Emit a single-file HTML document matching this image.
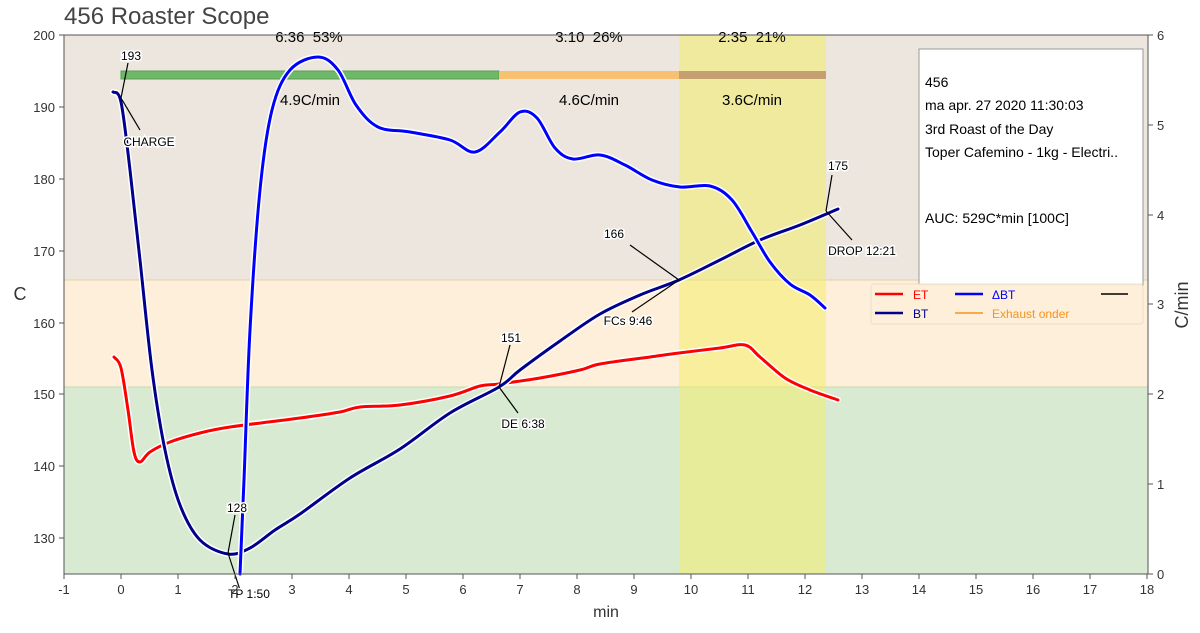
<!DOCTYPE html>
<html><head><meta charset="utf-8"><style>body{margin:0;background:#fff}svg{font-family:"Liberation Sans",sans-serif}text{white-space:pre}</style></head><body>
<svg width="1200" height="628" viewBox="0 0 1200 628" xmlns="http://www.w3.org/2000/svg">
<rect x="64" y="35" width="1084" height="245" fill="#ede6df"/>
<rect x="64" y="280" width="1084" height="107" fill="#fdefd9"/>
<rect x="64" y="387" width="1084" height="187" fill="#d9ead3"/>
<line x1="64" y1="280" x2="1148" y2="280" stroke="#e8cfa8"/>
<line x1="64" y1="387" x2="1148" y2="387" stroke="#c9d8b0"/>
<rect x="679" y="35" width="147" height="539" fill="#f4ee60" opacity="0.5"/>
<rect x="121" y="71" width="378" height="8" fill="#6fb86a" stroke="#58a050"/>
<rect x="499" y="71" width="180" height="8" fill="#f7c170"/>
<rect x="679" y="71" width="147" height="8" fill="#c4a070"/>
<g fill="#000" font-size="15" text-anchor="middle">
<text x="309" y="42" xml:space="preserve">6:36  53%</text><text x="589" y="42" xml:space="preserve">3:10  26%</text><text x="752" y="42" xml:space="preserve">2:35  21%</text>
<text x="310" y="105">4.9C/min</text><text x="589" y="105">4.6C/min</text><text x="752" y="105">3.6C/min</text>
</g>
<g fill="none" stroke-linejoin="round" stroke-linecap="round">
<path id="etw" stroke="#fff" stroke-width="6"/><path id="et" stroke="#f00" stroke-width="3"/>
<path id="btw" stroke="#fff" stroke-width="6"/><path id="bt" stroke="#00008b" stroke-width="3"/>
<path id="dbw" stroke="#fff" stroke-width="6"/><path id="db" stroke="#00f" stroke-width="3"/>
</g>
<g stroke="#000" stroke-width="1.2">
<line x1="121" y1="98" x2="128" y2="63"/><line x1="121" y1="98" x2="140" y2="130"/>
<line x1="228" y1="553" x2="235" y2="515"/><line x1="228" y1="553" x2="240" y2="590"/>
<line x1="499" y1="387" x2="510" y2="345"/><line x1="499" y1="387" x2="518" y2="413"/>
<line x1="679" y1="280" x2="630" y2="245"/><line x1="679" y1="280" x2="632" y2="312"/>
<line x1="826" y1="211" x2="832" y2="175"/><line x1="826" y1="211" x2="852" y2="240"/>
</g>
<g font-size="12" fill="#000" text-anchor="middle" stroke="#fff" stroke-width="3" paint-order="stroke">
<text x="131" y="60">193</text><text x="149" y="146">CHARGE</text>
<text x="237" y="512">128</text><text x="249" y="598">TP 1:50</text>
<text x="511" y="342">151</text><text x="523" y="428">DE 6:38</text>
<text x="614" y="238">166</text><text x="628" y="325">FCs 9:46</text>
<text x="838" y="170">175</text><text x="862" y="255">DROP 12:21</text>
</g>
<rect x="919" y="49" width="224" height="236" fill="#fff" stroke="#999"/>
<g font-size="14" fill="#000"><text x="925" y="87">456</text><text x="925" y="110">ma apr. 27 2020 11:30:03</text><text x="925" y="134">3rd Roast of the Day</text><text x="925" y="157">Toper Cafemino - 1kg - Electri..</text><text x="925" y="223">AUC: 529C*min [100C]</text></g>
<rect x="871" y="284" width="272" height="40" rx="3" fill="#fdefd9" stroke="#eadfc8" opacity="0.95"/>
<g stroke-width="2.5"><line x1="875" y1="294" x2="903" y2="294" stroke="#f00"/><line x1="875" y1="313" x2="903" y2="313" stroke="#00008b"/><line x1="955" y1="294" x2="983" y2="294" stroke="#00f"/><line x1="955" y1="313" x2="983" y2="313" stroke="#f7931e" stroke-width="1.5"/><line x1="1101" y1="294" x2="1128" y2="294" stroke="#000" stroke-width="1.5"/></g>
<g font-size="12"><text x="913" y="299" fill="#f00">ET</text><text x="913" y="318" fill="#00008b">BT</text><text x="992" y="299" fill="#00f">ΔBT</text><text x="992" y="318" fill="#f7931e">Exhaust onder</text></g>
<rect x="64" y="35" width="1084" height="539" fill="none" stroke="#555"/>
<g stroke="#555"><line x1="59" y1="35" x2="64" y2="35"/><line x1="59" y1="107" x2="64" y2="107"/><line x1="59" y1="179" x2="64" y2="179"/><line x1="59" y1="251" x2="64" y2="251"/><line x1="59" y1="323" x2="64" y2="323"/><line x1="59" y1="394" x2="64" y2="394"/><line x1="59" y1="466" x2="64" y2="466"/><line x1="59" y1="538" x2="64" y2="538"/>
<line x1="1148" y1="35" x2="1153" y2="35"/><line x1="1148" y1="125" x2="1153" y2="125"/><line x1="1148" y1="215" x2="1153" y2="215"/><line x1="1148" y1="304" x2="1153" y2="304"/><line x1="1148" y1="394" x2="1153" y2="394"/><line x1="1148" y1="484" x2="1153" y2="484"/><line x1="1148" y1="574" x2="1153" y2="574"/></g>
<g font-size="13" fill="#333" text-anchor="end"><text x="55" y="40">200</text><text x="55" y="112">190</text><text x="55" y="184">180</text><text x="55" y="256">170</text><text x="55" y="328">160</text><text x="55" y="399">150</text><text x="55" y="471">140</text><text x="55" y="543">130</text></g>
<g font-size="13" fill="#333"><text x="1157" y="40">6</text><text x="1157" y="130">5</text><text x="1157" y="220">4</text><text x="1157" y="309">3</text><text x="1157" y="399">2</text><text x="1157" y="489">1</text><text x="1157" y="579">0</text></g>
<g font-size="13" fill="#333" text-anchor="middle">
<text x="64" y="594">-1</text><text x="121" y="594">0</text><text x="178" y="594">1</text><text x="235" y="594">2</text><text x="292" y="594">3</text><text x="349" y="594">4</text><text x="406" y="594">5</text><text x="463" y="594">6</text><text x="520" y="594">7</text><text x="577" y="594">8</text><text x="634" y="594">9</text><text x="691" y="594">10</text><text x="748" y="594">11</text><text x="805" y="594">12</text><text x="862" y="594">13</text><text x="919" y="594">14</text><text x="976" y="594">15</text><text x="1033" y="594">16</text><text x="1090" y="594">17</text><text x="1147" y="594">18</text></g>
<g stroke="#555"><line x1="64" y1="574" x2="64" y2="579"/><line x1="121" y1="574" x2="121" y2="579"/><line x1="178" y1="574" x2="178" y2="579"/><line x1="235" y1="574" x2="235" y2="579"/><line x1="292" y1="574" x2="292" y2="579"/><line x1="349" y1="574" x2="349" y2="579"/><line x1="406" y1="574" x2="406" y2="579"/><line x1="463" y1="574" x2="463" y2="579"/><line x1="520" y1="574" x2="520" y2="579"/><line x1="577" y1="574" x2="577" y2="579"/><line x1="634" y1="574" x2="634" y2="579"/><line x1="691" y1="574" x2="691" y2="579"/><line x1="748" y1="574" x2="748" y2="579"/><line x1="805" y1="574" x2="805" y2="579"/><line x1="862" y1="574" x2="862" y2="579"/><line x1="919" y1="574" x2="919" y2="579"/><line x1="976" y1="574" x2="976" y2="579"/><line x1="1033" y1="574" x2="1033" y2="579"/><line x1="1090" y1="574" x2="1090" y2="579"/><line x1="1147" y1="574" x2="1147" y2="579"/></g>
<text x="606" y="617" font-size="16" fill="#333" text-anchor="middle">min</text>
<text x="20" y="300" font-size="18" fill="#333" text-anchor="middle">C</text>
<text x="1188" y="305" font-size="18" fill="#333" text-anchor="middle" transform="rotate(-90 1188 305)">C/min</text>
<text x="64" y="24" font-size="24" fill="#444">456 Roaster Scope</text>
</svg>
<script>
function cr(s){var p=s.trim().split(/\s+/).map(function(a){return a.split(',').map(Number)});var d='M'+p[0][0]+','+p[0][1];
for(var i=0;i<p.length-1;i++){var p0=p[i-1]||p[i],p1=p[i],p2=p[i+1],p3=p[i+2]||p2;
d+=' C'+(p1[0]+(p2[0]-p0[0])/6)+','+(p1[1]+(p2[1]-p0[1])/6)+' '+(p2[0]-(p3[0]-p1[0])/6)+','+(p2[1]-(p3[1]-p1[1])/6)+' '+p2[0]+','+p2[1];}return d;}
var ET="114,357 121,368 128,410 134,452 140,462 150,452 170,442 200,433 230,427 300,418 340,412 360,407 400,405 450,396 480,386 499,384 540,378 580,370 600,364 650,357 679,353 720,348 745,345 760,357 785,378 810,390 838,400";
var BT="113,92 121,102 130,170 140,260 152,370 165,450 180,505 200,540 228,554 250,548 275,530 300,514 350,478 400,449 450,413 499,387 520,370 560,341 600,314 640,295 679,280 720,260 760,240 800,225 838,209";
var DB="240,574 244,480 250,330 260,190 272,110 290,70 318,57 338,70 356,105 378,127 410,132 450,140 475,152 500,132 520,112 537,118 555,148 573,159 600,155 625,165 652,180 680,187 710,186 732,200 752,232 770,262 790,284 810,295 825,308";
[['et',ET],['bt',BT],['db',DB]].forEach(function(a){var d=cr(a[1]);document.getElementById(a[0]).setAttribute('d',d);document.getElementById(a[0]+'w').setAttribute('d',d);});
</script>
</body></html>
